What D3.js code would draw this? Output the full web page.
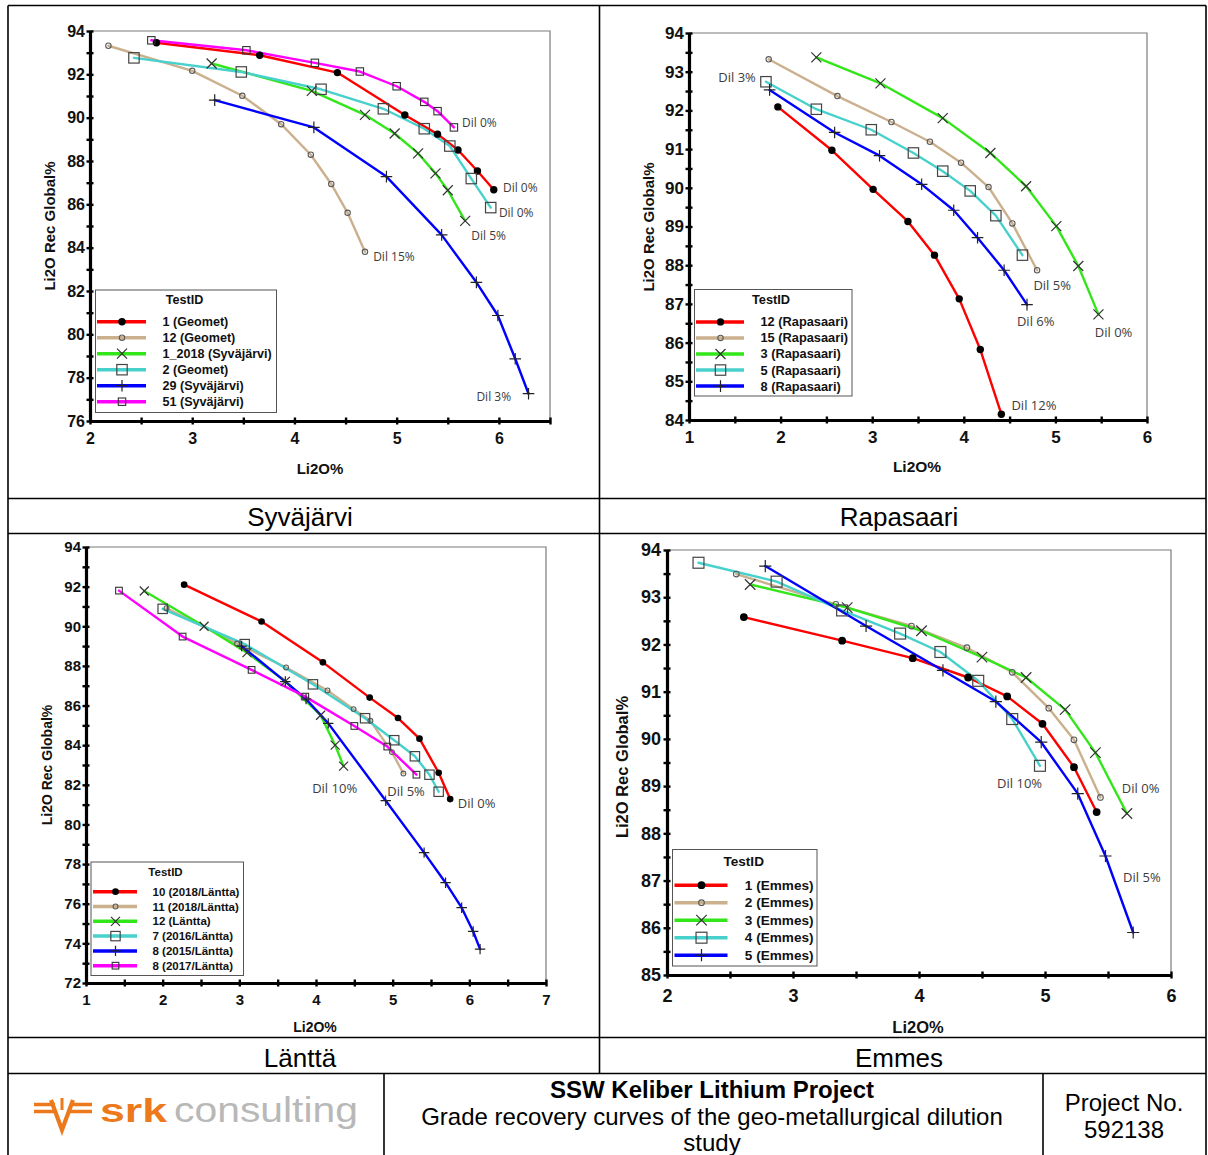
<!DOCTYPE html>
<html><head><meta charset="utf-8">
<script src="https://cdn.jsdelivr.net/npm/d3@7"></script>
<style>body{margin:0;background:#fff}svg{display:block}</style>
</head><body>
<svg id="c" width="1208" height="1155"></svg>
<script>
// ---------------- DATA ----------------
// Syväjärvi
const syvNames = ["1 (Geomet)", "12 (Geomet)", "1_2018 (Syväjärvi)", "2 (Geomet)", "29 (Syväjärvi)", "51 (Syväjärvi)"];
const syv1Geomet = [[2.65,93.46],[3.66,92.88],[4.42,92.08],[5.08,90.12],[5.40,89.24],[5.60,88.51],[5.79,87.54],[5.95,86.67]];
const syv12Geomet = [[2.18,93.32],[3.00,92.16],[3.49,91.01],[3.87,89.70],[4.16,88.29],[4.36,86.94],[4.52,85.61],[4.69,83.81]];
const syv1_2018 = [[3.19,92.50],[4.17,91.24],[4.69,90.13],[4.98,89.27],[5.21,88.35],[5.38,87.43],[5.50,86.65],[5.67,85.24]];
const syv2Geomet = [[2.43,92.76],[3.48,92.11],[4.26,91.31],[4.87,90.41],[5.27,89.49],[5.52,88.69],[5.73,87.19],[5.92,85.85]];
const syv29 = [[3.22,90.81],[4.19,89.55],[4.90,87.28],[5.44,84.59],[5.78,82.40],[5.99,80.87],[6.16,78.87],[6.29,77.26]];
const syv51 = [[2.60,93.57],[3.53,93.11],[4.20,92.53],[4.64,92.13],[5.00,91.45],[5.27,90.73],[5.40,90.30],[5.56,89.55]];
const syvXTicks = [2, 3, 4, 5, 6];
const syvYTicks = [76, 78, 80, 82, 84, 86, 88, 90, 92, 94];
const syvDilText = ["Dil 0%", "Dil 0%", "Dil 0%", "Dil 5%", "Dil 15%", "Dil 3%"];
const syvDilX = [5.64, 6.04, 6.00, 5.73, 4.77, 5.78];
const syvDilY = [89.77, 86.77, 85.62, 84.55, 83.58, 77.12];

// Rapasaari
const rapNames = ["12 (Rapasaari)", "15 (Rapasaari)", "3 (Rapasaari)", "5 (Rapasaari)", "8 (Rapasaari)"];
const rap12 = [[1.97,92.09],[2.56,90.97],[3.01,89.96],[3.39,89.13],[3.68,88.26],[3.95,87.13],[4.18,85.82],[4.41,84.15]];
const rap15 = [[1.87,93.32],[2.62,92.37],[3.21,91.70],[3.63,91.19],[3.97,90.65],[4.27,90.02],[4.53,89.08],[4.80,87.87]];
const rap3 = [[2.39,93.37],[3.09,92.70],[3.77,91.80],[4.29,90.90],[4.68,90.04],[5.01,89.01],[5.25,87.98],[5.47,86.73]];
const rap5 = [[1.84,92.74],[2.39,92.03],[2.99,91.50],[3.45,90.90],[3.77,90.43],[4.07,89.92],[4.35,89.28],[4.64,88.26]];
const rap8 = [[1.88,92.53],[2.59,91.43],[3.08,90.83],[3.54,90.09],[3.89,89.42],[4.15,88.71],[4.44,87.87],[4.69,86.98]];
const rapXTicks = [1, 2, 3, 4, 5, 6];
const rapYTicks = [84, 85, 86, 87, 88, 89, 90, 91, 92, 93, 94];
const rapDilText = ["Dil 3%", "Dil 5%", "Dil 6%", "Dil 0%", "Dil 12%"];
const rapDilX = [1.32, 4.76, 4.58, 5.43, 4.52];
const rapDilY = [92.86, 87.47, 86.55, 86.26, 84.37];

// Länttä
const lanNames = ["10 (2018/Läntta)", "11 (2018/Läntta)", "12 (Läntta)", "7 (2016/Läntta)", "8 (2015/Läntta)", "8 (2017/Läntta)"];
const lan10 = [[2.28,92.10],[3.29,90.24],[4.09,88.18],[4.70,86.40],[5.07,85.37],[5.35,84.33],[5.60,82.61],[5.75,81.28]];
const lan11 = [[2.05,90.91],[2.97,89.13],[3.61,87.92],[4.15,86.76],[4.49,85.82],[4.71,85.23],[4.99,83.65],[5.14,82.57]];
const lan12 = [[1.76,91.78],[2.54,90.00],[3.10,88.67],[3.60,87.22],[4.06,85.51],[4.25,84.00],[4.36,82.94]];
const lan7 = [[2.00,90.88],[3.07,89.10],[3.96,87.07],[4.64,85.36],[5.02,84.25],[5.29,83.44],[5.48,82.51],[5.60,81.65]];
const lan8_2015 = [[3.03,89.00],[3.60,87.21],[3.87,86.33],[4.16,85.10],[4.91,81.20],[5.41,78.58],[5.69,77.06],[5.90,75.80],[6.05,74.60],[6.14,73.71]];
const lan8_2017 = [[1.43,91.80],[2.26,89.48],[3.16,87.80],[3.86,86.45],[4.50,84.97],[4.93,83.93],[5.31,82.51]];
const lanXTicks = [1, 2, 3, 4, 5, 6, 7];
const lanYTicks = [72, 74, 76, 78, 80, 82, 84, 86, 88, 90, 92, 94];
const lanDilText = ["Dil 10%", "Dil 5%", "Dil 0%"];
const lanDilX = [3.95, 4.93, 5.85];
const lanDilY = [81.80, 81.67, 81.08];

// Emmes
const emmNames = ["1 (Emmes)", "2 (Emmes)", "3 (Emmes)", "4 (Emmes)", "5 (Emmes)"];
const emm1 = [[2.61,92.58],[3.39,92.08],[3.95,91.71],[4.39,91.30],[4.70,90.90],[4.98,90.32],[5.23,89.40],[5.41,88.45]];
const emm2 = [[2.55,93.49],[3.34,92.85],[3.94,92.39],[4.38,91.93],[4.74,91.41],[5.03,90.65],[5.23,89.98],[5.44,88.76]];
const emm3 = [[2.66,93.27],[3.43,92.78],[4.02,92.29],[4.50,91.73],[4.85,91.30],[5.16,90.62],[5.40,89.71],[5.65,88.42]];
const emm4 = [[2.25,93.73],[2.87,93.33],[3.39,92.72],[3.85,92.23],[4.17,91.84],[4.47,91.23],[4.74,90.42],[4.96,89.43]];
const emm5 = [[2.78,93.66],[3.58,92.39],[4.19,91.45],[4.61,90.79],[4.97,89.93],[5.26,88.84],[5.48,87.52],[5.70,85.90]];
const emmXTicks = [2, 3, 4, 5, 6];
const emmYTicks = [85, 86, 87, 88, 89, 90, 91, 92, 93, 94];
const emmDilText = ["Dil 10%", "Dil 0%", "Dil 5%"];
const emmDilX = [4.62, 5.61, 5.62];
const emmDilY = [89.05, 88.94, 87.06];

const captions = ["Syväjärvi", "Rapasaari", "Länttä", "Emmes"];
const footerTitle = "SSW Keliber Lithium Project";
const footerSub = ["Grade recovery curves of the geo-metallurgical dilution", "study"];
const projectText = ["Project No.", "592138"];

// ---------------- STYLE ----------------
const F = "'Liberation Sans', Arial, Helvetica, sans-serif";
const FD = "'Open Sans', 'Noto Sans', sans-serif";
const styleDefs = [
  {color: "#ff0000", marker: "dot"},
  {color: "#cbb08e", marker: "ring"},
  {color: "#33e61a", marker: "x"},
  {color: "#48d1cc", marker: "square"},
  {color: "#0000ff", marker: "plus"},
  {color: "#ff00ff", marker: "smallsquare"}
];

const panels = [
  {series: [syv1Geomet, syv12Geomet, syv1_2018, syv2Geomet, syv29, syv51], names: syvNames,
   xDomain: [2, 6.5], yDomain: [76, 94], xRange: [90, 550], yRange: [421, 31],
   xTicks: syvXTicks, yTicks: syvYTicks, xMinor: 0.5, yMinor: 1,
   tickFont: 16, xPad: 12, yPad: 5, titleFont: 15, xTitle: [320, 469], yTitle: [50, 226], yTitleFont: 15,
   ms: 1.0, dil: [syvDilText, syvDilX, syvDilY], dilFont: 12,
   leg: {x: 95.5, y: 290, w: 181, h: 122.5, tx: 184.5, ty: 300, r0: 321.7, dr: 16, l0: 97, l1: 146, mx: 122, txt: 162.5, font: 12.6}},
  {series: [rap12, rap15, rap3, rap5, rap8], names: rapNames,
   xDomain: [1, 6], yDomain: [84, 94], xRange: [689, 1147], yRange: [420, 33],
   xTicks: rapXTicks, yTicks: rapYTicks, xMinor: 0.5, yMinor: 0.5,
   tickFont: 17, xPad: 11, yPad: 5, titleFont: 15.5, xTitle: [917, 467], yTitle: [649, 227], yTitleFont: 15,
   ms: 1.0, dil: [rapDilText, rapDilX, rapDilY], dilFont: 13,
   leg: {x: 694.5, y: 289.5, w: 157.5, h: 106.5, tx: 771, ty: 300, r0: 321.9, dr: 16.05, l0: 696, l1: 744, mx: 720.5, txt: 760.5, font: 12.8}},
  {series: [lan10, lan11, lan12, lan7, lan8_2015, lan8_2017], names: lanNames,
   xDomain: [1, 7], yDomain: [72, 94], xRange: [86, 546], yRange: [983, 547],
   xTicks: lanXTicks, yTicks: lanYTicks, xMinor: 0.5, yMinor: 1,
   tickFont: 15, xPad: 11, yPad: 5, titleFont: 14, xTitle: [315, 1027], yTitle: [47, 765], yTitleFont: 14,
   ms: 0.9, dil: [lanDilText, lanDilX, lanDilY], dilFont: 13,
   leg: {x: 91, y: 862, w: 152.5, h: 113.5, tx: 165.5, ty: 872, r0: 891.7, dr: 14.8, l0: 93, l1: 137, mx: 115.5, txt: 152.5, font: 11.5}},
  {series: [emm1, emm2, emm3, emm4, emm5], names: emmNames,
   xDomain: [2, 6], yDomain: [85, 94], xRange: [667, 1171], yRange: [975, 550],
   xTicks: emmXTicks, yTicks: emmYTicks, xMinor: 0.5, yMinor: 0.5,
   tickFont: 18, xPad: 14, yPad: 6, titleFont: 16.5, xTitle: [918, 1027], yTitle: [622, 767], yTitleFont: 16.5,
   ms: 1.05, dil: [emmDilText, emmDilX, emmDilY], dilFont: 13,
   leg: {x: 672.5, y: 849.5, w: 144.5, h: 116.5, tx: 743.7, ty: 861.5, r0: 885.2, dr: 17.5, l0: 674.5, l1: 727.5, mx: 701.5, txt: 744.8, font: 13.6}}
];

const svg = d3.select("#c");
svg.append("rect").attr("width", 1208).attr("height", 1155).attr("fill", "#fff");

function marker(g, type, cx, cy, s) {
  if (type === "dot") {
    g.append("circle").attr("cx", cx).attr("cy", cy).attr("r", 3.7 * s).attr("fill", "#000");
  } else if (type === "ring") {
    g.append("circle").attr("cx", cx).attr("cy", cy).attr("r", 2.7 * s)
      .attr("fill", "none").attr("stroke", "#5a5a5a").attr("stroke-width", 1.1);
  } else if (type === "x") {
    const h = 5 * s;
    g.append("path").attr("d", `M${cx-h},${cy-h}L${cx+h},${cy+h}M${cx-h},${cy+h}L${cx+h},${cy-h}`)
      .attr("stroke", "#333").attr("stroke-width", 1.2).attr("fill", "none");
  } else if (type === "square") {
    const h = 5.2 * s;
    g.append("rect").attr("x", cx - h).attr("y", cy - h).attr("width", 2 * h).attr("height", 2 * h)
      .attr("fill", "none").attr("stroke", "#444").attr("stroke-width", 1.2);
  } else if (type === "plus") {
    const h = 5.8 * s;
    g.append("path").attr("d", `M${cx-h},${cy}L${cx+h},${cy}M${cx},${cy-h}L${cx},${cy+h}`)
      .attr("stroke", "#222").attr("stroke-width", 1.2).attr("fill", "none");
  } else if (type === "smallsquare") {
    const h = 3.7 * s;
    g.append("rect").attr("x", cx - h).attr("y", cy - h).attr("width", 2 * h).attr("height", 2 * h)
      .attr("fill", "none").attr("stroke", "#333").attr("stroke-width", 1.1);
  }
}

function drawPanel(p) {
  const x = d3.scaleLinear().domain(p.xDomain).range(p.xRange);
  const y = d3.scaleLinear().domain(p.yDomain).range(p.yRange);
  const g = svg.append("g");
  const [xl, xr] = p.xRange, [yb, yt] = p.yRange;

  g.append("path").attr("d", `M${xl},${yt}H${xr}V${yb}`)
    .attr("fill", "none").attr("stroke", "#7a7a7a").attr("stroke-width", 1.2);

  const line = d3.line().x(d => x(d[0])).y(d => y(d[1]));
  p.series.forEach((data, i) => {
    const st = styleDefs[i];
    g.append("path").datum(data).attr("d", line).attr("fill", "none")
      .attr("stroke", st.color).attr("stroke-width", 2.4)
      .attr("stroke-linejoin", "round").attr("stroke-linecap", "round");
  });
  p.series.forEach((data, i) => {
    data.forEach(d => marker(g, styleDefs[i].marker, x(d[0]), y(d[1]), p.ms));
  });

  // dilution labels
  const [dt, dx, dy] = p.dil;
  dt.forEach((t, i) => {
    const tx = g.append("text").attr("x", x(dx[i])).attr("y", y(dy[i])).attr("dy", "0.35em")
      .attr("font-family", FD).attr("font-size", p.dilFont).attr("fill", "#3c3c3c").text(t);
    const bb = tx.node().getBBox();
    g.insert("rect", () => tx.node()).attr("x", bb.x - 1).attr("y", bb.y + 1)
      .attr("width", bb.width + 2).attr("height", bb.height - 2).attr("fill", "#fff");
  });

  // axes
  const ya = g.append("g").attr("transform", `translate(${xl},0)`)
    .call(d3.axisLeft(y).tickValues(p.yTicks).tickSize(0).tickPadding(p.yPad).tickFormat(d3.format("d")));
  ya.select(".domain").attr("stroke", "#000").attr("stroke-width", 3.2);
  ya.selectAll("text").attr("font-family", F).attr("font-weight", "bold").attr("font-size", p.tickFont).attr("fill", "#111");
  const ym = g.append("g").attr("transform", `translate(${xl + 3.5},0)`)
    .call(d3.axisLeft(y).tickValues(d3.range(p.yDomain[0], p.yDomain[1] + p.yMinor / 2, p.yMinor)).tickSize(7).tickFormat(""));
  ym.select(".domain").remove();
  ym.selectAll("line").attr("stroke", "#000").attr("stroke-width", 2.4);

  const xa = g.append("g").attr("transform", `translate(0,${yb})`)
    .call(d3.axisBottom(x).tickValues(p.xTicks).tickSize(0).tickPadding(p.xPad).tickFormat(d3.format("d")));
  xa.select(".domain").attr("stroke", "#000").attr("stroke-width", 3.2);
  xa.selectAll("text").attr("font-family", F).attr("font-weight", "bold").attr("font-size", p.tickFont).attr("fill", "#111");
  const xm = g.append("g").attr("transform", `translate(0,${yb - 3.5})`)
    .call(d3.axisBottom(x).tickValues(d3.range(p.xDomain[0], p.xDomain[1] + p.xMinor / 2, p.xMinor)).tickSize(7).tickFormat(""));
  xm.select(".domain").remove();
  xm.selectAll("line").attr("stroke", "#000").attr("stroke-width", 2.4);

  // titles
  g.append("text").attr("x", p.xTitle[0]).attr("y", p.xTitle[1]).attr("dy", "0.35em")
    .attr("text-anchor", "middle").attr("font-family", F).attr("font-weight", "bold")
    .attr("font-size", p.titleFont).attr("fill", "#111").text("Li2O%");
  g.append("text").attr("transform", `translate(${p.yTitle[0]},${p.yTitle[1]}) rotate(-90)`)
    .attr("dy", "0.35em").attr("text-anchor", "middle").attr("font-family", F).attr("font-weight", "bold")
    .attr("font-size", p.yTitleFont).attr("fill", "#111").text("Li2O Rec Global%");

  // legend
  const L = p.leg;
  const lg = g.append("g");
  lg.append("rect").attr("x", L.x).attr("y", L.y).attr("width", L.w).attr("height", L.h)
    .attr("fill", "#fff").attr("stroke", "#555").attr("stroke-width", 1);
  lg.append("text").attr("x", L.tx).attr("y", L.ty).attr("dy", "0.35em").attr("text-anchor", "middle")
    .attr("font-family", F).attr("font-weight", "bold").attr("font-size", L.font).attr("fill", "#111").text("TestID");
  p.names.forEach((n, i) => {
    const ry = L.r0 + i * L.dr;
    lg.append("line").attr("x1", L.l0).attr("x2", L.l1).attr("y1", ry).attr("y2", ry)
      .attr("stroke", styleDefs[i].color).attr("stroke-width", 3.5);
    marker(lg, styleDefs[i].marker, L.mx, ry, p.ms);
    lg.append("text").attr("x", L.txt).attr("y", ry).attr("dy", "0.35em")
      .attr("font-family", F).attr("font-weight", "bold").attr("font-size", L.font).attr("fill", "#111").text(n);
  });
}

panels.forEach(drawPanel);

// ---------------- TABLE FRAME ----------------
const frame = svg.append("g").attr("stroke", "#000").attr("stroke-width", 1.6).attr("fill", "none");
const hLines = [[8, 1206, 5.5], [8, 1206, 498.5], [8, 1206, 533.5], [8, 1206, 1037.5], [8, 1206, 1073.5]];
hLines.forEach(h => frame.append("line").attr("x1", h[0]).attr("x2", h[1]).attr("y1", h[2]).attr("y2", h[2]));
const vLines = [[8, 5.5, 1160], [1206, 5.5, 1160], [599.5, 5.5, 1073.5], [384, 1073.5, 1160], [1043, 1073.5, 1160]];
vLines.forEach(v => frame.append("line").attr("x1", v[0]).attr("x2", v[0]).attr("y1", v[1]).attr("y2", v[2]));

const capPos = [[300, 517], [899, 517], [300, 1058], [899, 1058]];
captions.forEach((c, i) => {
  svg.append("text").attr("x", capPos[i][0]).attr("y", capPos[i][1]).attr("dy", "0.35em")
    .attr("text-anchor", "middle").attr("font-family", F).attr("font-size", 26).attr("fill", "#000").text(c);
});

// footer texts
svg.append("text").attr("x", 712).attr("y", 1090).attr("dy", "0.35em").attr("text-anchor", "middle")
  .attr("font-family", F).attr("font-weight", "bold").attr("font-size", 24).attr("fill", "#000").text(footerTitle);
footerSub.forEach((t, i) => {
  svg.append("text").attr("x", 712).attr("y", 1117 + i * 26).attr("dy", "0.35em").attr("text-anchor", "middle")
    .attr("font-family", F).attr("font-size", 24).attr("fill", "#000").text(t);
});
projectText.forEach((t, i) => {
  svg.append("text").attr("x", 1124).attr("y", 1103 + i * 27).attr("dy", "0.35em").attr("text-anchor", "middle")
    .attr("font-family", F).attr("font-size", 24).attr("fill", "#000").text(t);
});

// logo
const logo = svg.append("g");
const orange = "#ec7a1c";
logo.append("path").attr("d", "M34,1104.5H55M34,1111.5H57M70,1104.5H92M68,1111.5H92")
  .attr("stroke", orange).attr("stroke-width", 3.6).attr("fill", "none");
logo.append("path").attr("d", "M51,1100L62,1130L73,1100").attr("stroke", orange).attr("stroke-width", 4.2).attr("fill", "none");
logo.append("path").attr("d", "M62,1098V1110").attr("stroke", orange).attr("stroke-width", 3).attr("fill", "none");
logo.append("text").attr("x", 100).attr("y", 1122).attr("font-family", F).attr("font-weight", "bold")
  .attr("font-size", 34).attr("fill", orange).attr("textLength", 67).attr("lengthAdjust", "spacingAndGlyphs").text("srk");
logo.append("text").attr("x", 174).attr("y", 1122).attr("font-family", F)
  .attr("font-size", 35).attr("fill", "#b8b8b8").attr("textLength", 184).attr("lengthAdjust", "spacingAndGlyphs").text("consulting");
</script>
</body></html>
